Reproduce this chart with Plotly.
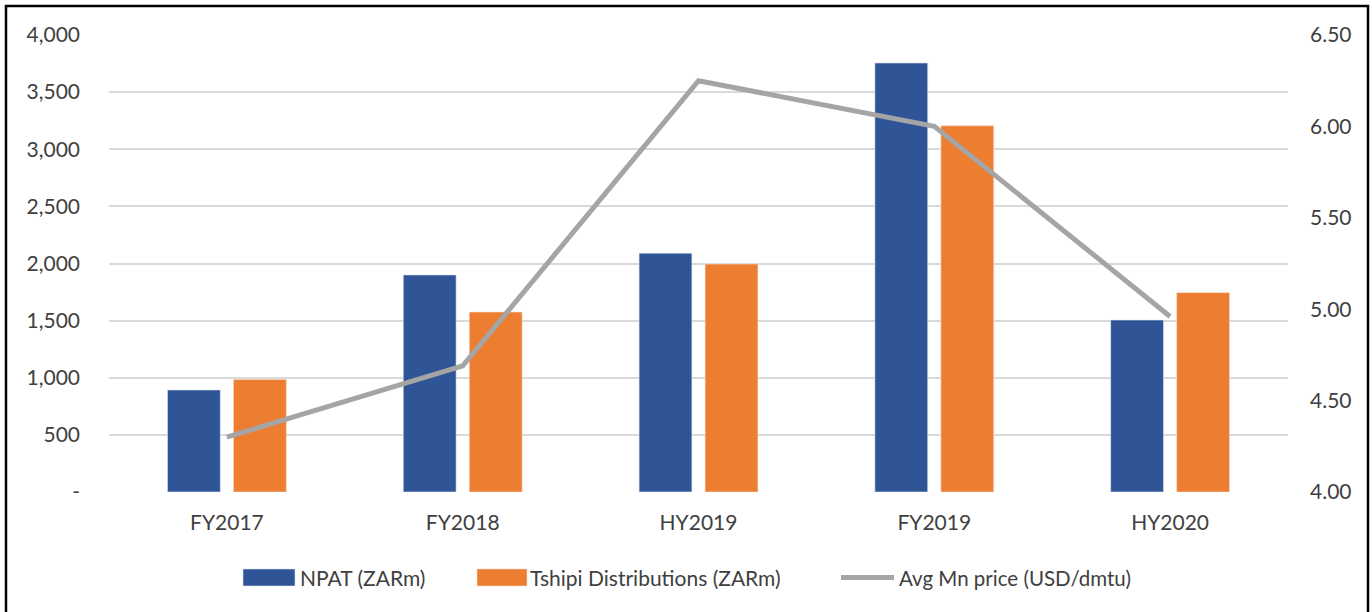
import plotly.graph_objects as go

categories = ["FY2017", "FY2018", "HY2019", "FY2019", "HY2020"]
npat = [893, 1900, 2090, 3755, 1505]
tshipi = [985, 1575, 1995, 3205, 1745]
mn_price = [4.30, 4.69, 6.25, 6.00, 4.96]

left_ticks = [0, 500, 1000, 1500, 2000, 2500, 3000, 3500, 4000]
left_labels = ["-", "500", "1,000", "1,500", "2,000", "2,500", "3,000", "3,500", "4,000"]
right_ticks = [4.0, 4.5, 5.0, 5.5, 6.0, 6.5]
right_labels = ["4.00", "4.50", "5.00", "5.50", "6.00", "6.50"]

names = ["NPAT (ZARm)", "Tshipi Distributions (ZARm)", "Avg Mn price (USD/dmtu)"]
colors = ["#2F5597", "#ED7D31", "#A5A5A5"]

FONT = "Lato"
TXT = "#404040"
FS = 21

W, H = 1372, 612
L, R, T, B = 109, 84, 35, 120
PW, PH = W - L - R, H - T - B


def px(x):
    return (x - L) / PW


def py(y):
    return (H - B - y) / PH


fig = go.Figure()
fig.add_trace(go.Bar(x=categories, y=npat, name=names[0], showlegend=False,
                     marker=dict(color=colors[0], line=dict(color="#dce3ef", width=0.6))))
fig.add_trace(go.Bar(x=categories, y=tshipi, name=names[1], showlegend=False,
                     marker=dict(color=colors[1], line=dict(color="#f7dac6", width=0.6))))
fig.add_trace(go.Scatter(x=categories, y=mn_price, name=names[2], showlegend=False,
                         mode="lines", yaxis="y2",
                         line=dict(color=colors[2], width=5)))

# custom legend (wide swatches as in the reference)
shapes = [
    dict(type="rect", xref="paper", yref="paper", x0=px(243), x1=px(295), y0=py(586), y1=py(569),
         fillcolor=colors[0], line=dict(width=0.6, color="#dce3ef")),
    dict(type="rect", xref="paper", yref="paper", x0=px(477), x1=px(527), y0=py(586), y1=py(569),
         fillcolor=colors[1], line=dict(width=0.6, color="#f7dac6")),
    dict(type="line", xref="paper", yref="paper", x0=px(841), x1=px(894), y0=py(577.5), y1=py(577.5),
         line=dict(width=5, color=colors[2])),
    dict(type="rect", xref="paper", yref="paper",
         x0=px(6), x1=px(1368), y0=py(640), y1=py(6),
         line=dict(color="black", width=2.5), fillcolor="rgba(0,0,0,0)", layer="above"),
]
annotations = [
    dict(text=names[0], xref="paper", yref="paper", x=px(298), y=py(577.5), xanchor="left",
         yanchor="middle", showarrow=False, font=dict(family=FONT, size=FS, color=TXT)),
    dict(text=names[1], xref="paper", yref="paper", x=px(528), y=py(577.5), xanchor="left",
         yanchor="middle", showarrow=False, font=dict(family=FONT, size=FS, color=TXT)),
    dict(text=names[2], xref="paper", yref="paper", x=px(897), y=py(577.5), xanchor="left",
         yanchor="middle", showarrow=False, font=dict(family=FONT, size=FS - 0.5, color=TXT)),
]

fig.update_layout(
    width=W, height=H,
    margin=dict(l=L, r=R, t=T, b=B),
    paper_bgcolor="white", plot_bgcolor="white",
    font=dict(family=FONT, size=FS, color=TXT),
    barmode="group", bargap=0.44, bargroupgap=0.2,
    showlegend=False,
    xaxis=dict(showgrid=False, showline=False, ticks="", ticklabelstandoff=16,
               tickfont=dict(size=FS, color=TXT)),
    yaxis=dict(range=[0, 4000], tickvals=left_ticks, ticktext=left_labels,
               showgrid=True, gridcolor="#D9D9D9", gridwidth=1.6, zeroline=False,
               ticks="", ticklabelstandoff=28, tickfont=dict(size=FS, color=TXT)),
    yaxis2=dict(range=[4.0, 6.5], tickvals=right_ticks, ticktext=right_labels,
                overlaying="y", side="right", showgrid=False, zeroline=False,
                ticks="", ticklabelstandoff=21, tickfont=dict(size=FS, color=TXT)),
    shapes=shapes,
    annotations=annotations,
)

fig.write_html("out.html", config={"displayModeBar": False},
               post_script="document.body.style.margin='0';")
